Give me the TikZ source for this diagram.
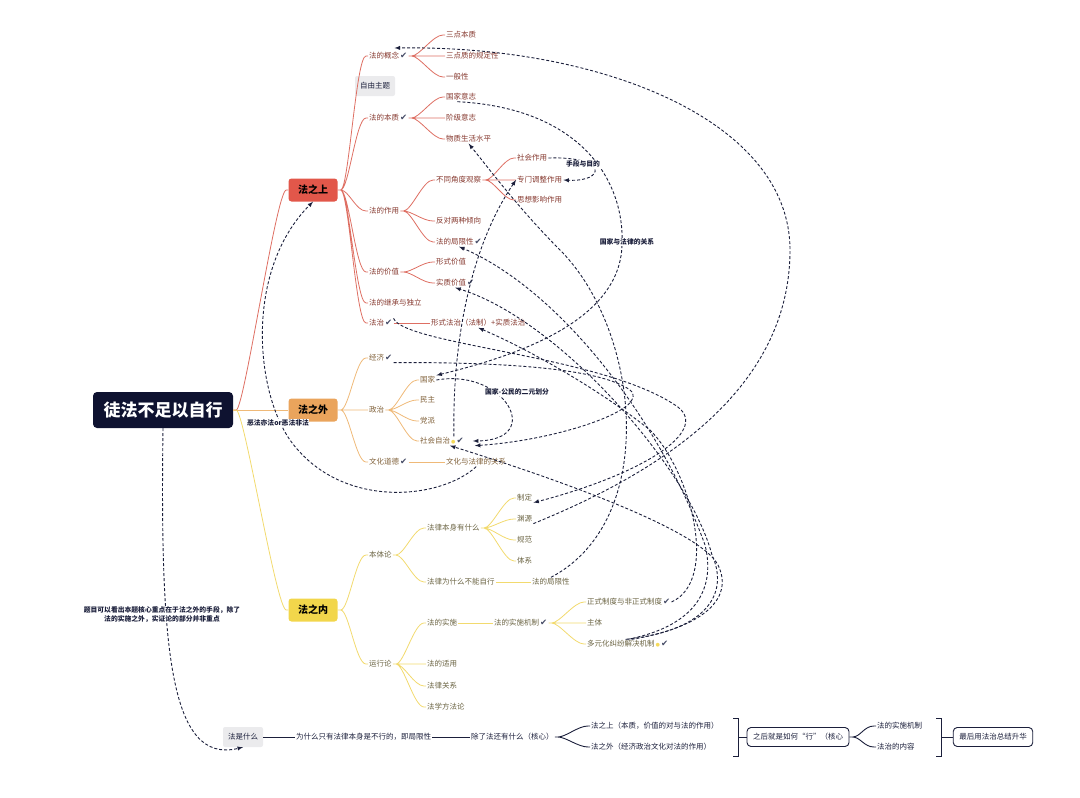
\documentclass[tikz,border=0pt]{standalone}
\usepackage{fontspec}
\setmainfont{Noto Sans CJK SC}
\newfontfamily\symfont{DejaVu Sans}
\definecolor{navy}{HTML}{1B1F3B}
\definecolor{rootc}{HTML}{0E1230}
\definecolor{redbox}{HTML}{E2574A}
\definecolor{orgbox}{HTML}{EAA45C}
\definecolor{ylwbox}{HTML}{F2D64B}
\definecolor{redln}{HTML}{DE6F63}
\definecolor{orgln}{HTML}{EFB978}
\definecolor{ylwln}{HTML}{F2DA6E}
\definecolor{redtx}{HTML}{86392F}
\definecolor{orgtx}{HTML}{80613A}
\definecolor{ylwtx}{HTML}{6B6443}
\definecolor{okc}{HTML}{454B66}
\definecolor{crownc}{HTML}{F5DA5A}
\definecolor{tagc}{HTML}{EBEBED}
\newcommand{\ok}{\hspace{1pt}{\symfont\fontsize{8.5}{9}\selectfont\color{okc}✔}}
\newcommand{\crownmark}{\hspace{1pt}{\symfont\fontsize{5}{5}\selectfont\color{crownc}●}}
\begin{document}
\begin{tikzpicture}[x=1pt, y=-1pt,
    every node/.style={font=\fontsize{7.5}{9}\selectfont, inner sep=1pt},
    rootbox/.style={fill=rootc, text=white, rounded corners=4pt, minimum width=140pt, minimum height=36pt, font=\fontsize{17}{20}\selectfont\bfseries},
    topbox/.style={rounded corners=3pt, minimum width=49pt, minimum height=23pt, font=\fontsize{10}{12}\selectfont\bfseries, text=black},
    redtxt/.style={anchor=west, text=redtx},
    orgtxt/.style={anchor=west, text=orgtx},
    ylwtxt/.style={anchor=west, text=ylwtx},
    navytxt/.style={anchor=west, text=navy},
    tagbox/.style={fill=tagc, rounded corners=2pt, minimum height=20pt, inner xsep=5pt, text=navy},
    navybox/.style={draw=navy, fill=white, line width=0.9pt, rounded corners=4pt, minimum height=19pt, inner xsep=6pt, text=navy},
    redline/.style={draw=redln, line width=0.8pt},
    orgline/.style={draw=orgln, line width=0.8pt},
    ylwline/.style={draw=ylwln, line width=0.8pt},
    navyline/.style={draw=navy, line width=0.9pt},
    br/.style={to path={(\tikztostart) -- ++(3pt,0) .. controls +(8pt,0) and +(-10pt,0) .. ([xshift=-2pt]\tikztotarget) -- (\tikztotarget)}},
    rel/.style={draw=navy, dash pattern=on 3pt off 2pt, line width=0.9pt, -latex},
    rellabel/.style={fill=white, inner sep=0.5pt, text=navy, font=\fontsize{6.8}{9}\selectfont\bfseries}]
    \useasboundingbox (0,0) rectangle (1080,798);

    \node[rootbox] (root) at (163,410) {徒法不足以自行};
    \node[topbox, fill=redbox] (fzs) at (313,190) {法之上};
    \node[topbox, fill=orgbox] (fzw) at (313,410) {法之外};
    \node[topbox, fill=ylwbox] (fzn) at (313,610) {法之内};

    \node[redtxt] (gn) at (368,56) {法的概念\ok};
    \node[tagbox] (ziyou) at (375,86) {自由主题};
    \node[redtxt] (bz) at (368,118) {法的本质\ok};
    \node[redtxt] (zy) at (368,211) {法的作用};
    \node[redtxt] (jz) at (368,272) {法的价值};
    \node[redtxt] (jc) at (368,303) {法的继承与独立};
    \node[redtxt] (fz) at (368,323) {法治\ok};
    \node[redtxt] (gn1) at (445,35) {三点本质};
    \node[redtxt] (gn2) at (445,56) {三点质的规定性};
    \node[redtxt] (gn3) at (445,77) {一般性};
    \node[redtxt] (bz1) at (445,97) {国家意志};
    \node[redtxt] (bz2) at (445,118) {阶级意志};
    \node[redtxt] (bz3) at (445,139) {物质生活水平};
    \node[redtxt] (zy1) at (435,180) {不同角度观察};
    \node[redtxt] (zy2) at (435,221) {反对两种倾向};
    \node[redtxt] (zy3) at (435,242) {法的局限性\ok};
    \node[redtxt] (zy11) at (516,158) {社会作用};
    \node[redtxt] (zy12) at (516,180) {专门调整作用};
    \node[redtxt] (zy13) at (516,200) {思想影响作用};
    \node[redtxt] (jz1) at (435,262) {形式价值};
    \node[redtxt] (jz2) at (435,283) {实质价值\ok};
    \node[redtxt] (fz1) at (430,323) {形式法治（法制）+实质法治};

    \node[orgtxt] (jj) at (368,358) {经济\ok};
    \node[orgtxt] (zz) at (368,410) {政治};
    \node[orgtxt] (wh) at (368,462) {文化道德\ok};
    \node[orgtxt] (zz1) at (419,380) {国家};
    \node[orgtxt] (zz2) at (419,400) {民主};
    \node[orgtxt] (zz3) at (419,421) {党派};
    \node[orgtxt] (zz4) at (419,441) {社会自治\crownmark\ok};
    \node[orgtxt] (wh1) at (445,462) {文化与法律的关系};

    \node[ylwtxt] (bt) at (368,555) {本体论};
    \node[ylwtxt] (yx) at (368,664) {运行论};
    \node[ylwtxt] (bt1) at (426,528) {法律本身有什么};
    \node[ylwtxt] (bt2) at (426,582) {法律为什么不能自行};
    \node[ylwtxt] (bt11) at (516,498) {制定};
    \node[ylwtxt] (bt12) at (516,519) {渊源};
    \node[ylwtxt] (bt13) at (516,540) {规范};
    \node[ylwtxt] (bt14) at (516,561) {体系};
    \node[ylwtxt] (bt21) at (531,582) {法的局限性};
    \node[ylwtxt] (yx1) at (426,623) {法的实施};
    \node[ylwtxt] (yx2) at (426,664) {法的适用};
    \node[ylwtxt] (yx3) at (426,686) {法律关系};
    \node[ylwtxt] (yx4) at (426,707) {法学方法论};
    \node[ylwtxt] (yx11) at (493,623) {法的实施机制\ok};
    \node[ylwtxt] (yx111) at (586,602) {正式制度与非正式制度\ok};
    \node[ylwtxt] (yx112) at (586,623) {主体};
    \node[ylwtxt] (yx113) at (586,644) {多元化纠纷解决机制\crownmark\ok};

    \draw[redline] (root.east) to[br] (fzs.west);
    \draw[orgline] (root.east) -- (fzw.west);
    \draw[ylwline] (root.east) to[br] (fzn.west);

    \draw[redline] (fzs.east) to[br] (gn.west) (fzs.east) to[br] (bz.west) (fzs.east) to[br] (zy.west)
        (fzs.east) to[br] (jz.west) (fzs.east) to[br] (jc.west) (fzs.east) to[br] (fz.west);
    \draw[redline] (gn.east) to[br] (gn1.west) (gn.east) to[br] (gn2.west) (gn.east) to[br] (gn3.west);
    \draw[redline] (bz.east) to[br] (bz1.west) (bz.east) to[br] (bz2.west) (bz.east) to[br] (bz3.west);
    \draw[redline] (zy.east) to[br] (zy1.west) (zy.east) to[br] (zy2.west) (zy.east) to[br] (zy3.west);
    \draw[redline] (zy1.east) to[br] (zy11.west) (zy1.east) to[br] (zy12.west) (zy1.east) to[br] (zy13.west);
    \draw[redline] (jz.east) to[br] (jz1.west) (jz.east) to[br] (jz2.west);
    \draw[redline] (fz.east) -- (fz1.west);

    \draw[orgline] (fzw.east) to[br] (jj.west) (fzw.east) -- (zz.west) (fzw.east) to[br] (wh.west);
    \draw[orgline] (zz.east) to[br] (zz1.west) (zz.east) to[br] (zz2.west) (zz.east) to[br] (zz3.west) (zz.east) to[br] (zz4.west);
    \draw[orgline] (wh.east) -- (wh1.west);

    \draw[ylwline] (fzn.east) to[br] (bt.west) (fzn.east) to[br] (yx.west);
    \draw[ylwline] (bt.east) to[br] (bt1.west) (bt.east) to[br] (bt2.west);
    \draw[ylwline] (bt1.east) to[br] (bt11.west) (bt1.east) to[br] (bt12.west) (bt1.east) to[br] (bt13.west) (bt1.east) to[br] (bt14.west);
    \draw[ylwline] (bt2.east) -- (bt21.west);
    \draw[ylwline] (yx.east) to[br] (yx1.west) (yx.east) to[br] (yx2.west) (yx.east) to[br] (yx3.west) (yx.east) to[br] (yx4.west);
    \draw[ylwline] (yx1.east) -- (yx11.west);
    \draw[ylwline] (yx11.east) to[br] (yx111.west) (yx11.east) to[br] (yx112.west) (yx11.east) to[br] (yx113.west);

    \node[tagbox] (b1) at (243,737) {法是什么};
    \node[navytxt] (b2) at (295,737) {为什么只有法律本身是不行的，即局限性};
    \node[navytxt] (b3) at (470,737) {除了法还有什么（核心）};
    \node[navytxt] (b4) at (590,726) {法之上（本质，价值的对与法的作用）};
    \node[navytxt] (b5) at (590,747) {法之外（经济政治文化对法的作用）};
    \node[navybox] (b6) at (798,737) {之后就是如何“行”（核心};
    \node[navytxt] (b7) at (876,726) {法的实施机制};
    \node[navytxt] (b8) at (876,747) {法治的内容};
    \node[navybox] (b9) at (993,737) {最后用法治总结升华};
    \coordinate (brk1) at (738,737);
    \coordinate (brk2) at (941,737);
    \draw[navyline] (b1.east) -- (b2.west);
    \draw[navyline] (b2.east) -- (b3.west);
    \draw[navyline] (b3.east) to[br] (b4.west) (b3.east) to[br] (b5.west);
    \draw[navyline] (733,718) -- (738,718) -- (738,756) -- (733,756);
    \draw[navyline] (brk1) -- (b6.west);
    \draw[navyline] (b6.east) to[br] (b7.west) (b6.east) to[br] (b8.west);
    \draw[navyline] (936,718) -- (941,718) -- (941,756) -- (936,756);
    \draw[navyline] (brk2) -- (b9.west);

    \draw[rel] (bt12.south east) .. controls (640,480) and (790,400) .. (790,250) .. controls (790,120) and (600,45) .. ([xshift=-14pt,yshift=8pt]gn.east);
    \draw[rel] (zy11.east) .. controls (608,156) and (606,182) .. (zy12.east);
    \draw[rel] ([xshift=-20pt]bz1.south east) .. controls (580,108) and (625,180) .. (622,245) .. controls (620,320) and (520,355) .. (zz1.north east);
    \draw[rel] (zz1.east) .. controls (505,368) and (545,440) .. ([xshift=8pt]zz4.east);
    \draw[rel] ([xshift=12pt]zz4.north) .. controls (452,330) and (475,240) .. (zy12.west);
    \draw[rel] (bt21.north) .. controls (660,520) and (640,330) .. (560,250) .. controls (520,210) and (490,170) .. (bz3.south);
    \draw[rel] (fz.north east) .. controls (405,345) and (600,355) .. (675,405) .. controls (712,428) and (650,472) .. (bt11.south east);
    \draw[rel] (jj.south east) .. controls (500,362) and (600,368) .. (630,390) .. controls (652,408) and (560,440) .. ([xshift=10pt]zz4.south east);
    \draw[rel] ([xshift=4pt]yx113.north) .. controls (700,628) and (735,600) .. (718,565) .. controls (700,530) and (560,480) .. ([xshift=8pt]zz4.south);
    \draw[rel] (yx113.north) .. controls (700,625) and (715,585) .. (705,545) .. controls (660,420) and (560,290) .. (zy3.south);
    \draw[rel] ([xshift=-2pt]yx113.north) .. controls (712,630) and (728,590) .. (712,555) .. controls (690,470) and (560,320) .. (jz2.south);
    \draw[rel] (yx111.east) .. controls (720,580) and (690,470) .. (650,430) .. controls (600,390) and (530,350) .. (fz1.south);
    \draw[rel] (wh1.south) .. controls (440,500) and (340,510) .. (290,440) .. controls (255,390) and (245,270) .. (fzs.south);
    \draw[rel] (root.south) .. controls (160,650) and (170,765) .. (b1.south);

    \node[rellabel] (l1) at (583,164) {手段与目的};
    \node[rellabel] (l2) at (627,242) {国家与法律的关系};
    \node[rellabel] (l3) at (517,392) {国家-公民的二元划分};
    \node[rellabel] (l4) at (278,423) {恶法亦法or恶法非法};
    \node[rellabel, align=center] (l5) at (162,615) {题目可以看出本题核心重点在于法之外的手段，除了\\法的实施之外，实证论的部分并非重点};
\end{tikzpicture}
\end{document}
